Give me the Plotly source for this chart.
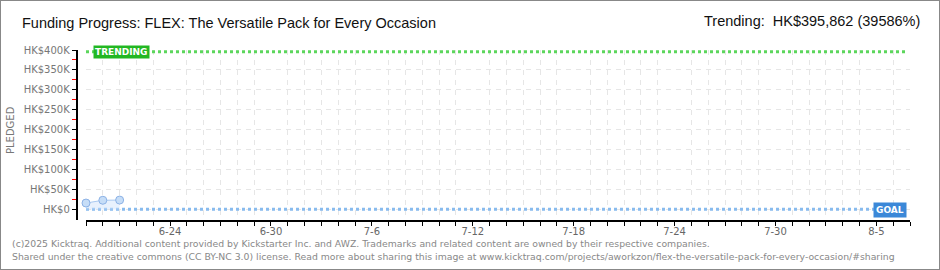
import plotly.graph_objects as go

W, H = 940, 270

# ---- data ----
dates = ["2025-06-19", "2025-06-20", "2025-06-21"]
pledged = [16500, 23500, 24000]
trending_value = 395862
goal_value = 1000
x_start, x_end = "2025-06-19", "2025-08-07"
y_min, y_max = -26000, 400000
y_tickvals = [0, 50000, 100000, 150000, 200000, 250000, 300000, 350000, 400000]
y_ticktext = ["HK$0", "HK$50K", "HK$100K", "HK$150K", "HK$200K", "HK$250K", "HK$300K", "HK$350K", "HK$400K"]
y_minorvals = [25000, 75000, 125000, 175000, 225000, 275000, 325000, 375000]
title_text = "Funding Progress: FLEX: The Versatile Pack for Every Occasion"
trend_text = "Trending:  HK$395,862 (39586%)"
footer1 = "(c)2025 Kicktraq. Additional content provided by Kickstarter Inc. and AWZ. Trademarks and related content are owned by their respective companies."
footer2 = "Shared under the creative commons (CC BY-NC 3.0) license. Read more about sharing this image at www.kicktraq.com/projects/aworkzon/flex-the-versatile-pack-for-every-occasion/#sharing"

px_x = lambda p: p / W
px_y = lambda p: 1 - p / H

fig = go.Figure()

line_end = "2025-08-06T20:00"
fig.add_trace(go.Scatter(x=[x_start, line_end], y=[trending_value, trending_value], mode="lines",
                         line=dict(color="#5cd65c", width=3, dash="dot"), hoverinfo="skip", showlegend=False))
fig.add_trace(go.Scatter(x=[x_start, line_end], y=[goal_value, goal_value], mode="lines",
                         line=dict(color="#88bbee", width=3, dash="dot"), hoverinfo="skip", showlegend=False))
fig.add_trace(go.Scatter(x=dates, y=pledged, mode="lines+markers", fill="tozeroy",
                         fillcolor="rgba(205,225,250,0.45)", cliponaxis=False,
                         line=dict(color="#a8c8f0", width=1),
                         marker=dict(size=8, color="#c6ddf7", line=dict(color="#8cb2e6", width=1)),
                         showlegend=False))

fig.update_layout(
    width=W, height=H,
    margin=dict(l=0, r=0, t=0, b=0, autoexpand=False),
    paper_bgcolor="white", plot_bgcolor="white",
    font=dict(family="DejaVu Sans", size=10, color="#666"),
    xaxis=dict(
        domain=[px_x(86), px_x(910)],
        range=[x_start, x_end], type="date",
        anchor="y", automargin=False,
        showline=True, linecolor="black", linewidth=1.5,
        ticks="outside", ticklen=4, tickcolor="black", tickwidth=1,
        dtick=6 * 86400000, tick0="2025-06-24",
        tickformat="%-m-%-d",
        ticklabelstandoff=-3,
        tickfont=dict(family="DejaVu Sans", size=10, color="#666"),
        showgrid=False, zeroline=False,
        minor=dict(dtick=86400000, tick0="2025-06-19", ticks="outside", ticklen=4, tickcolor="black",
                   showgrid=True, gridcolor="#e6e6e6", griddash="5px,5px", gridwidth=1),
    ),
    yaxis=dict(
        domain=[px_y(220), px_y(50)],
        range=[y_min, y_max],
        anchor="free", position=px_x(76.5), automargin=False,
        showline=True, linecolor="black", linewidth=1.5,
        ticks="outside", ticklen=4, tickcolor="black",
        tickvals=y_tickvals, ticktext=y_ticktext,
        tickfont=dict(family="DejaVu Sans", size=10, color="#777"),
        showgrid=True, gridcolor="#e6e6e6", griddash="5px,5px", gridwidth=1,
        zeroline=False,
        minor=dict(tickvals=y_minorvals, ticks="outside", ticklen=4, tickcolor="red", showgrid=False),
    ),
)

ann = []
ann.append(dict(text=title_text, x=px_x(20), y=px_y(23), xref="paper", yref="paper",
                xanchor="left", yanchor="middle", showarrow=False,
                font=dict(family="Liberation Sans", size=14.5, color="#111")))
ann.append(dict(text=trend_text, x=px_x(922), y=px_y(21), xref="paper", yref="paper",
                xanchor="right", yanchor="middle", showarrow=False,
                font=dict(family="Liberation Sans", size=14.5, color="#111")))
ann.append(dict(text="PLEDGED", x=px_x(11), y=px_y(130), xref="paper", yref="paper",
                textangle=-90, xanchor="center", yanchor="middle", showarrow=False,
                font=dict(family="DejaVu Sans", size=10, color="#777")))
ann.append(dict(text=footer1, x=px_x(10), y=px_y(243), xref="paper", yref="paper",
                xanchor="left", yanchor="middle", showarrow=False,
                font=dict(family="DejaVu Sans", size=9.3, color="#888")))
ann.append(dict(text=footer2, x=px_x(10), y=px_y(256), xref="paper", yref="paper",
                xanchor="left", yanchor="middle", showarrow=False,
                font=dict(family="DejaVu Sans", size=9.3, color="#888")))
ann.append(dict(text="<b>TRENDING</b>", x="2025-06-19T10:00", y=trending_value, xref="x", yref="y",
                xanchor="left", yanchor="middle", showarrow=False, bgcolor="#22b722",
                font=dict(family="DejaVu Sans", size=9, color="white"), borderpad=1))
ann.append(dict(text="<b>GOAL</b>", x="2025-08-06T19:00", y=goal_value - 2000, xref="x", yref="y",
                xanchor="right", yanchor="middle", showarrow=False, bgcolor="#3b88d8",
                font=dict(family="DejaVu Sans", size=9, color="white"), borderpad=2))
fig.update_layout(annotations=ann)

fig.add_shape(type="rect", xref="paper", yref="paper", x0=0, y0=0, x1=1, y1=1,
              line=dict(color="#888", width=2), fillcolor="rgba(0,0,0,0)")

fig.write_html("out.html", config={"displayModeBar": False},
               post_script="document.body.style.margin='0';document.body.style.overflow='hidden';")
